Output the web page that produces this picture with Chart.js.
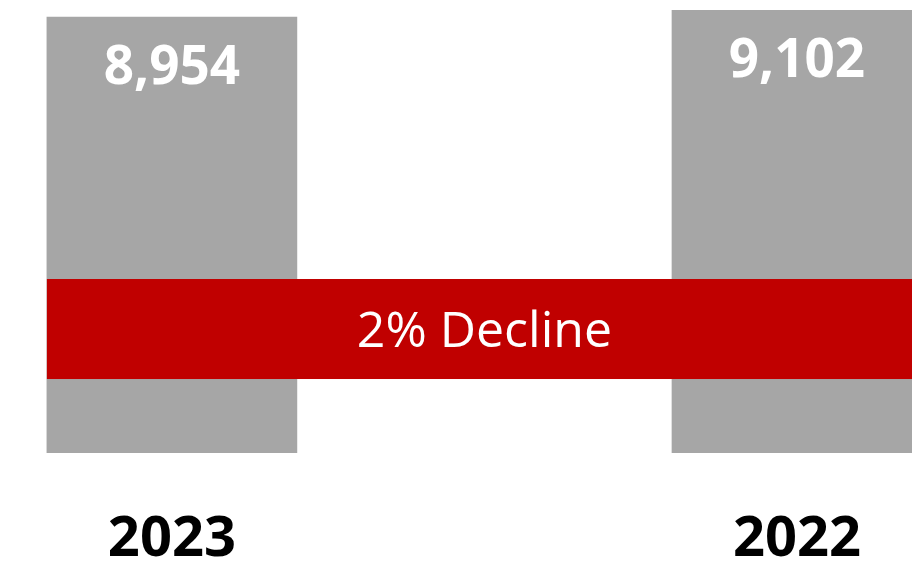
<!DOCTYPE html>
<html>
<head>
<meta charset="utf-8">
<script src="https://cdn.jsdelivr.net/npm/chart.js@4"></script>
<style>
  html, body { margin: 0; padding: 0; background: #fff; }
  #wrap { width: 912px; height: 565px; position: relative; }
</style>
</head>
<body>
<div id="wrap"><canvas id="chart"></canvas></div>
<script>
// data
const years = ['2023', '2022'];
const counts = [8954, 9102];
// value range covered by the red band
const bandRange = [1520, 3575];

const fontFamily = '"Open Sans", "Liberation Sans", sans-serif';

const declinePct = Math.round((counts[1] - counts[0]) / counts[1] * 100);
const bandText = declinePct + '% Decline';

// red band across both bars plus value labels
const overlayPlugin = {
    id: 'overlay',
    afterDatasetsDraw(chart) {
        const ctx = chart.ctx;
        const y = chart.scales.y;
        const bars = chart.getDatasetMeta(0).data;
        const first = bars[0];
        const last = bars[bars.length - 1];

        const left = first.x - first.width / 2;
        const right = last.x + last.width / 2;
        const top = y.getPixelForValue(bandRange[1]);
        const bottom = y.getPixelForValue(bandRange[0]);

        ctx.save();
        ctx.fillStyle = '#C00000';
        ctx.fillRect(left, top, right - left, bottom - top);

        ctx.fillStyle = '#ffffff';
        ctx.textAlign = 'center';
        ctx.textBaseline = 'alphabetic';
        ctx.font = '50px ' + fontFamily;
        ctx.fillText(bandText, (left + right) / 2, (top + bottom) / 2 + 18);

        ctx.font = 'bold 53px ' + fontFamily;
        bars.forEach((bar, i) => {
            ctx.fillText(counts[i].toLocaleString('en-US'), bar.x, bar.y + 67);
        });
        ctx.restore();
    }
};

new Chart(document.getElementById('chart'), {
    type: 'bar',
    data: {
        datasets: [{
            data: counts.map((v, i) => ({ x: i, y: v })),
            backgroundColor: '#A6A6A6',
            borderWidth: 0,
            barThickness: 250
        }]
    },
    options: {
        responsive: true,
        maintainAspectRatio: false,
        animation: false,
        layout: { padding: { top: 10, left: 0, right: 0, bottom: 0 } },
        plugins: {
            legend: { display: false },
            tooltip: { enabled: false }
        },
        scales: {
            x: {
                type: 'linear',
                offset: false,
                min: -0.275,
                max: 1.184,
                grid: { display: false, drawTicks: false },
                border: { display: false },
                afterBuildTicks: (scale) => {
                    scale.ticks = years.map((_, i) => ({ value: i }));
                },
                afterFit: (scale) => {
                    scale.height = 112;
                    scale.paddingLeft = 0;
                    scale.paddingRight = 0;
                },
                ticks: {
                    autoSkip: false,
                    maxRotation: 0,
                    padding: 53,
                    color: '#000000',
                    font: { family: fontFamily, size: 56, weight: 'bold' },
                    callback: (value) => years[value]
                }
            },
            y: {
                display: false,
                min: 0,
                max: Math.max(...counts)
            }
        }
    },
    plugins: [overlayPlugin]
});
</script>
</body>
</html>
